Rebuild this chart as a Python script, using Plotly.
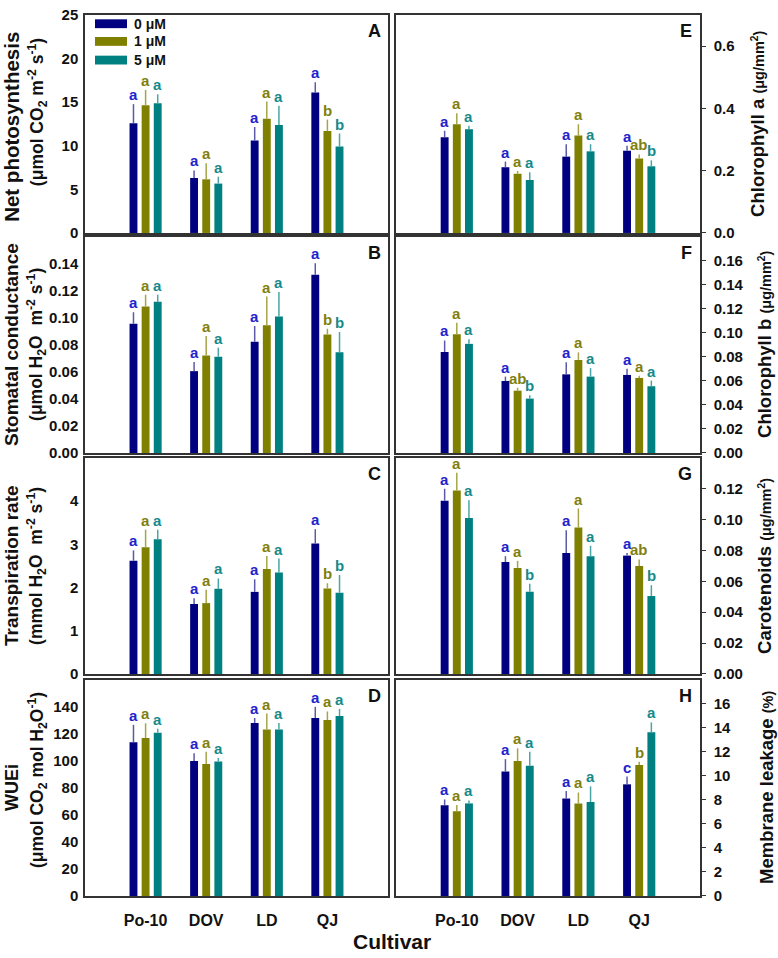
import plotly.graph_objects as go

# ---------------- data ----------------
cultivars = ["Po-10", "DOV", "LD", "QJ"]
treatments = ["0 μM", "1 μM", "5 μM"]

# rows = treatments (0, 1, 5 μM); columns = cultivars
photo_mean = [[12.57, 6.30, 10.60, 16.10],
              [14.64, 6.15, 13.09, 11.70],
              [14.87, 5.66, 12.38, 9.92]]
photo_err = [[2.20, 0.87, 1.55, 1.18],
             [1.76, 1.85, 1.97, 1.30],
             [1.03, 0.79, 2.19, 1.48]]
photo_letters = [["a", "a", "a", "a"], ["a", "a", "a", "b"], ["a", "a", "a", "b"]]

gs_mean = [[0.0957, 0.0606, 0.0824, 0.1320],
           [0.1085, 0.0722, 0.0945, 0.0877],
           [0.1119, 0.0712, 0.1010, 0.0746]]
gs_err = [[0.0085, 0.0067, 0.0116, 0.0085],
          [0.0087, 0.0145, 0.0213, 0.0043],
          [0.0053, 0.0068, 0.0182, 0.0150]]
gs_letters = [["a", "a", "a", "a"], ["a", "a", "a", "b"], ["a", "a", "a", "b"]]

tr_mean = [[2.62, 1.62, 1.90, 3.02],
           [2.93, 1.64, 2.43, 1.98],
           [3.12, 1.97, 2.35, 1.88]]
tr_err = [[0.24, 0.13, 0.29, 0.33],
          [0.41, 0.31, 0.30, 0.12],
          [0.22, 0.24, 0.32, 0.41]]
tr_letters = [["a", "a", "a", "a"], ["a", "a", "a", "b"], ["a", "a", "a", "b"]]

wue_mean = [[113.8, 100.0, 128.1, 131.8],
            [117.0, 97.8, 123.3, 130.3],
            [120.9, 99.5, 123.3, 133.2]]
wue_err = [[12.9, 5.6, 3.7, 8.2],
           [10.9, 9.0, 11.8, 6.3],
           [2.9, 2.7, 4.8, 5.3]]
wue_letters = [["a", "a", "a", "a"], ["a", "a", "a", "a"], ["a", "a", "a", "a"]]

chla_mean = [[0.307, 0.211, 0.245, 0.264],
             [0.349, 0.190, 0.313, 0.239],
             [0.333, 0.170, 0.262, 0.214]]
chla_err = [[0.021, 0.018, 0.040, 0.016],
            [0.035, 0.009, 0.036, 0.013],
            [0.011, 0.025, 0.023, 0.019]]
chla_letters = [["a", "a", "a", "a"], ["a", "a", "a", "ab"], ["a", "a", "a", "b"]]

chlb_mean = [[0.0841, 0.0600, 0.0655, 0.0650],
             [0.0989, 0.0519, 0.0775, 0.0625],
             [0.0909, 0.0453, 0.0636, 0.0556]]
chlb_err = [[0.0096, 0.0036, 0.0101, 0.0051],
            [0.0096, 0.0024, 0.0063, 0.0019],
            [0.0038, 0.0027, 0.0071, 0.0047]]
chlb_letters = [["a", "a", "a", "a"], ["a", "ab", "a", "a"], ["a", "b", "a", "a"]]

car_mean = [[0.1123, 0.0725, 0.0784, 0.0767],
            [0.1189, 0.0687, 0.0949, 0.0700],
            [0.1010, 0.0533, 0.0763, 0.0505]]
car_err = [[0.0077, 0.0038, 0.0148, 0.0017],
           [0.0115, 0.0046, 0.0123, 0.0042],
           [0.0115, 0.0051, 0.0068, 0.0070]]
car_letters = [["a", "a", "a", "a"], ["a", "a", "a", "ab"], ["a", "b", "a", "b"]]

ml_mean = [[7.55, 10.36, 8.12, 9.30],
           [7.06, 11.24, 7.71, 10.91],
           [7.71, 10.85, 7.82, 13.64]]
ml_err = [[0.49, 1.04, 0.63, 0.65],
          [0.52, 1.06, 0.91, 0.27],
          [0.25, 1.17, 1.31, 0.82]]
ml_letters = [["a", "a", "a", "c"], ["a", "a", "a", "b"], ["a", "a", "a", "a"]]

# ---------------- style ----------------
FONT = "Liberation Sans, Arial, sans-serif"
bar_colors = ["#000080", "#808000", "#008080"]
err_colors = ["#5a5aa8", "#a5a548", "#4aa6a6"]
letter_colors = ["#2222cc", "#7f7f10", "#168a8a"]
AXC = "#333333"

W, H = 778, 958
col_px = [(85, 388), (396, 700)]
row_px = [(6, 228), (232, 452), (457, 677), (683, 903)]

panels = [
    dict(tag="A", col=0, row=0, mean=photo_mean, err=photo_err, let=photo_letters,
         yr=[0, 25], tv=[0, 5, 10, 15, 20, 25], fmt="d",
         t1="Net photosynthesis", t2="(μmol CO<sub>2</sub> m<sup>-2</sup> s<sup>-1</sup>)",
         s1=20.5, t1y=120, t2y=105),
    dict(tag="B", col=0, row=1, mean=gs_mean, err=gs_err, let=gs_letters,
         yr=[0, 0.16], tv=[0, 0.02, 0.04, 0.06, 0.08, 0.10, 0.12, 0.14], fmt=".2f",
         t1="Stomatal conductance", t2="(μmol H<sub>2</sub>O  m<sup>-2</sup> s<sup>-1</sup>)",
         s1=19, t1y=None, t2y=None),
    dict(tag="C", col=0, row=2, mean=tr_mean, err=tr_err, let=tr_letters,
         yr=[0, 5], tv=[0, 1, 2, 3, 4], fmt="d",
         t1="Transpiration rate", t2="(mmol H<sub>2</sub>O  m<sup>-2</sup> s<sup>-1</sup>)",
         s1=19, t1y=None, t2y=None),
    dict(tag="D", col=0, row=3, mean=wue_mean, err=wue_err, let=wue_letters,
         yr=[0, 160], tv=[0, 20, 40, 60, 80, 100, 120, 140], fmt="d",
         t1="WUEi", t2="(μmol CO<sub>2</sub> mol H<sub>2</sub>O<sup>-1</sup>)",
         s1=18, t1y=None, t2y=785),
    dict(tag="E", col=1, row=0, mean=chla_mean, err=chla_err, let=chla_letters,
         yr=[0, 0.7], tv=[0, 0.2, 0.4, 0.6], fmt=".1f",
         t1="Chlorophyll a", t2="(μg/mm<sup>2</sup>)", s1=18.5, tx=758),
    dict(tag="F", col=1, row=1, mean=chlb_mean, err=chlb_err, let=chlb_letters,
         yr=[0, 0.18], tv=[0, 0.02, 0.04, 0.06, 0.08, 0.10, 0.12, 0.14, 0.16], fmt=".2f",
         t1="Chlorophyll b", t2="(μg/mm<sup>2</sup>)", s1=18.5, tx=765),
    dict(tag="G", col=1, row=2, mean=car_mean, err=car_err, let=car_letters,
         yr=[0, 0.14], tv=[0, 0.02, 0.04, 0.06, 0.08, 0.10, 0.12], fmt=".2f",
         t1="Carotenoids", t2="(μg/mm<sup>2</sup>)", s1=18.5, tx=765),
    dict(tag="H", col=1, row=3, mean=ml_mean, err=ml_err, let=ml_letters,
         yr=[0, 18], tv=[0, 2, 4, 6, 8, 10, 12, 14, 16], fmt="d",
         t1="Membrane leakage", t2="(%)", s1=18.5, tx=767),
]

fig = go.Figure()
annotations = []
shapes = []
layout = {}
offsets = [-0.2, 0.0, 0.2]
xpos = list(range(len(cultivars)))

for i, p in enumerate(panels):
    n = i + 1
    xa = "x" if n == 1 else f"x{n}"
    ya = "y" if n == 1 else f"y{n}"
    for k in range(3):
        fig.add_trace(go.Bar(
            x=xpos, y=p["mean"][k], xaxis=xa, yaxis=ya, name=treatments[k],
            offsetgroup=str(k), showlegend=False,
            marker=dict(color=bar_colors[k], line=dict(width=0)),
            error_y=dict(type="data", symmetric=False, array=p["err"][k],
                         arrayminus=[0] * 4, width=0, thickness=1.5,
                         color=err_colors[k]),
        ))
        for j in range(len(cultivars)):
            annotations.append(dict(
                x=xpos[j] + offsets[k], y=p["mean"][k][j] + p["err"][k][j],
                xref=xa, yref=ya, text=p["let"][k][j], showarrow=False,
                yanchor="bottom", xanchor="center", yshift=-1,
                font=dict(family=FONT, size=15, color=letter_colors[k], weight="bold")))
    c0, c1 = col_px[p["col"]]
    r0, r1 = row_px[p["row"]]
    bottom = p["row"] == 3
    xaxis = dict(
        domain=[c0 / W, c1 / W], anchor=ya, range=[-1, 4],
        showline=True, mirror=True, linecolor=AXC, linewidth=1.5,
        showgrid=False, zeroline=False, ticks="",
        tickvals=xpos, showticklabels=bottom)
    if bottom:
        xaxis.update(ticktext=cultivars, ticklabelstandoff=9,
                     tickfont=dict(family=FONT, size=16, color="#111111", weight="bold"))
    layout["xaxis" if n == 1 else f"xaxis{n}"] = xaxis
    right = p["col"] == 1
    layout["yaxis" if n == 1 else f"yaxis{n}"] = dict(
        domain=[1 - r1 / H, 1 - r0 / H], anchor=xa, range=p["yr"],
        side="right" if right else "left",
        showline=True, mirror=True, linecolor=AXC, linewidth=1.5,
        showgrid=False, zeroline=False,
        ticks="outside" if right else "", ticklen=4, tickwidth=1.2, tickcolor=AXC,
        ticklabelstandoff=5 if right else 2, ticklabeloverflow="allow",
        tickvals=p["tv"], tickformat=p["fmt"],
        tickfont=dict(family=FONT, size=15, color="#111111", weight="bold"))
    # panel letter
    annotations.append(dict(
        x=1, y=1, xref=f"{xa} domain", yref=f"{ya} domain", text=p["tag"],
        showarrow=False, xanchor="right", yanchor="middle",
        xshift=-5 if not right else -6, yshift=-16,
        font=dict(family=FONT, size=18, color="#111111", weight="bold")))
    # axis titles
    yc = (r0 + r1) / 2
    if not right:
        y1 = p["t1y"] if p["t1y"] is not None else yc
        annotations.append(dict(
            x=12 / W, y=1 - y1 / H, xref="paper", yref="paper", text=p["t1"],
            textangle=-90, showarrow=False, xanchor="center", yanchor="middle",
            font=dict(family=FONT, size=p["s1"], color="#111111", weight="bold")))
        y2 = p["t2y"] if p["t2y"] is not None else yc
        annotations.append(dict(
            x=37 / W, y=1 - y2 / H, xref="paper", yref="paper", text=p["t2"],
            textangle=-90, showarrow=False, xanchor="center", yanchor="middle",
            font=dict(family=FONT, size=17.5, color="#111111", weight="bold")))
    else:
        annotations.append(dict(
            x=p["tx"] / W, y=1 - yc / H, xref="paper", yref="paper",
            text=p["t1"] + " <span style='font-size:14.5px'>" + p["t2"] + "</span>",
            textangle=-90, showarrow=False, xanchor="center", yanchor="middle",
            font=dict(family=FONT, size=p["s1"], color="#111111", weight="bold")))

# manual legend in panel A
leg_y = [15, 33, 52]
for k in range(3):
    shapes.append(dict(type="rect", xref="paper", yref="paper",
                       x0=95 / W, x1=127 / W,
                       y0=1 - (leg_y[k] + 4.5) / H, y1=1 - (leg_y[k] - 4.5) / H,
                       fillcolor=bar_colors[k], line=dict(width=0)))
    annotations.append(dict(x=132 / W, y=1 - leg_y[k] / H, xref="paper", yref="paper",
                            text=treatments[k], showarrow=False, xanchor="left",
                            yanchor="middle",
                            font=dict(family=FONT, size=14, color="#111111", weight="bold")))

# x-axis title
annotations.append(dict(x=392 / W, y=1 - 949 / H, xref="paper", yref="paper",
                        text="Cultivar", showarrow=False, xanchor="center", yanchor="middle",
                        font=dict(family=FONT, size=21, color="#111111", weight="bold")))

fig.update_layout(
    width=W, height=H, margin=dict(l=0, r=0, t=0, b=0),
    paper_bgcolor="white", plot_bgcolor="white",
    barmode="group", bargap=0.4, bargroupgap=0.35,
    showlegend=False, annotations=annotations, shapes=shapes,
    font=dict(family=FONT),
    **layout)

fig.write_html("out.html")
